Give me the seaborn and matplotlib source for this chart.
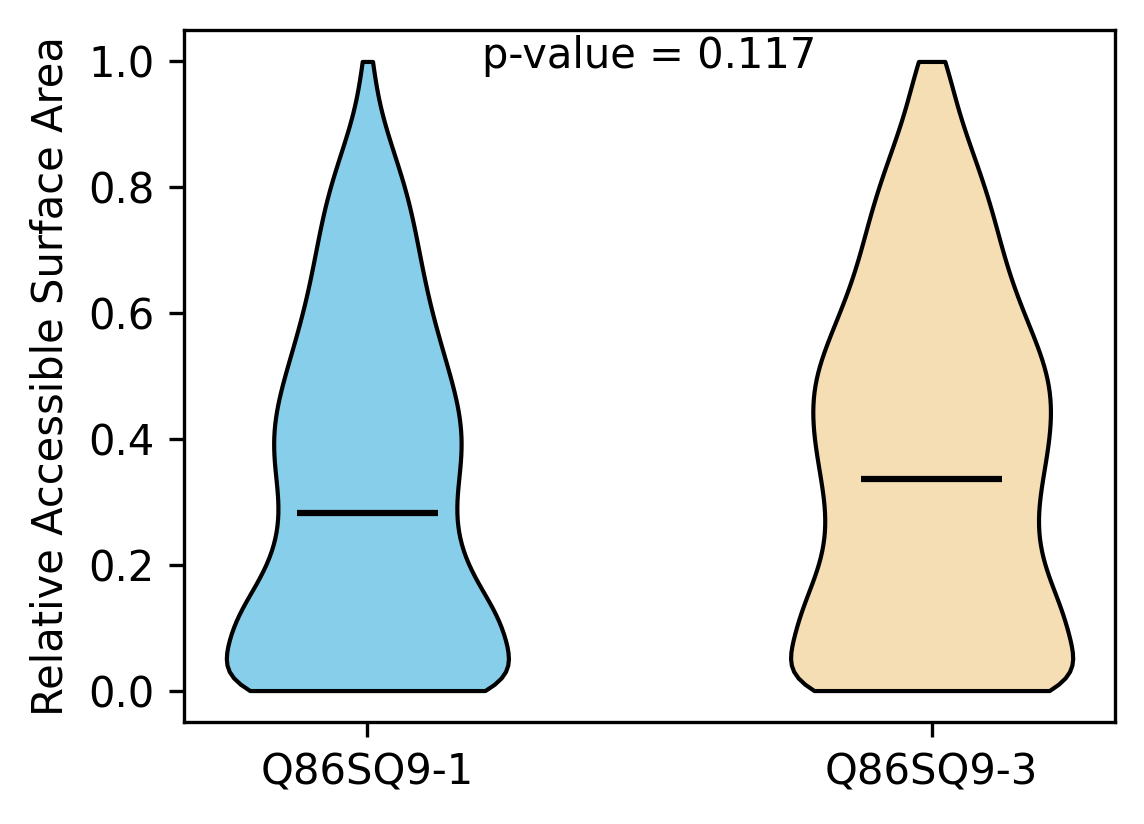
import numpy as np
import pandas as pd
import matplotlib
matplotlib.use("Agg")
import matplotlib.pyplot as plt
import seaborn as sns

# ---- data (frequency tables) ----
isoforms = ["Q86SQ9-1", "Q86SQ9-3"]
colors = ["#87CEEB", "#F5DEB3"]

rsa_levels = [0.000, 0.025, 0.050, 0.075, 0.100, 0.125, 0.150, 0.175, 0.200, 0.225,
              0.250, 0.275, 0.300, 0.325, 0.350, 0.375, 0.400, 0.425, 0.450, 0.475,
              0.500, 0.525, 0.550, 0.575, 0.600, 0.625, 0.650, 0.675, 0.700, 0.725,
              0.750, 0.775, 0.800, 0.825, 0.850, 0.875, 0.900, 0.925, 0.950, 0.975,
              1.000]

counts_iso1 = [345, 80, 140, 148, 146, 132, 119, 107, 99, 93,
               89, 87, 88, 91, 94, 97, 98, 96, 93, 89,
               84, 79, 74, 70, 65, 61, 58, 55, 52, 49,
               46, 43, 39, 33, 28, 22, 17, 12, 8, 6,
               9]

counts_iso3 = [355, 85, 140, 147, 144, 136, 127, 119, 113, 108,
               106, 106, 108, 112, 115, 118, 121, 123, 124, 124,
               121, 115, 108, 101, 94, 87, 81, 76, 72, 68,
               64, 60, 55, 49, 43, 37, 31, 26, 21, 16,
               26]

medians = [0.282, 0.337]
p_value_text = "p-value = 0.117"
y_label = "Relative Accessible Surface Area"

# ---- build long-form table ----
frames = []
for name, cnts in zip(isoforms, [counts_iso1, counts_iso3]):
    vals = np.repeat(np.array(rsa_levels), np.array(cnts))
    frames.append(pd.DataFrame({"isoform": name, "rsa": vals}))
df = pd.concat(frames, ignore_index=True)

# ---- figure ----
W, H, DPI = 1144, 824, 300
fig = plt.figure(figsize=(W / DPI, H / DPI), dpi=DPI)
ax = fig.add_axes([184 / W, 1 - 722 / H, (1115 - 184) / W, (722 - 30) / H])

sns.violinplot(data=df, x="isoform", y="rsa", hue="isoform", order=isoforms,
               hue_order=isoforms, palette=colors, saturation=1, legend=False,
               cut=0, inner=None, width=0.5, density_norm="width",
               bw_method=0.18, linecolor="black", linewidth=1.0, ax=ax)

for art in ax.collections:
    art.set_alpha(1.0)

positions = np.arange(len(isoforms))
ax.hlines(medians, positions - 0.125, positions + 0.125, colors="black",
          linewidth=1.5, zorder=5)

ax.set_xlim(-0.325, 1.325)
ax.set_ylim(-0.05, 1.05)
ax.set_yticks([0.0, 0.2, 0.4, 0.6, 0.8, 1.0])
ax.set_xlabel("")
ax.set_ylabel(y_label, fontsize=10)
ax.tick_params(labelsize=10)

ax.text(0.5, 0.945, p_value_text, transform=ax.transAxes, ha="center",
        va="baseline", fontsize=10)

fig.savefig("out.png", dpi=DPI)
